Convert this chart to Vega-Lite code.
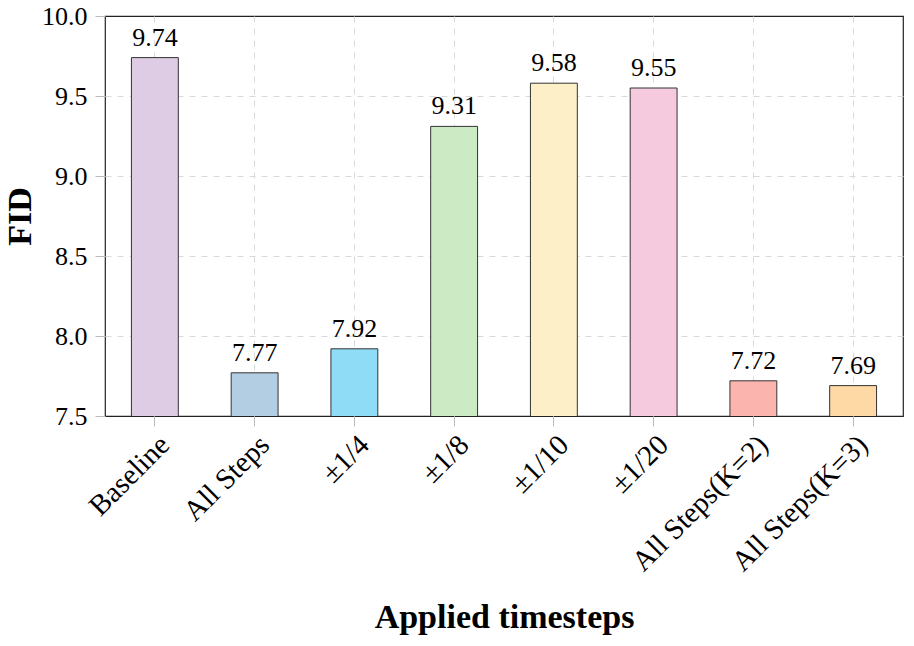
{
  "$schema": "https://vega.github.io/schema/vega-lite/v6.json",
  "autosize": "none",
  "width": 798,
  "height": 400,
  "padding": {"left": 105, "top": 16, "right": 11, "bottom": 230},
  "data": {
    "values": [
      {"step": "Baseline", "fid": 9.74, "color": "#decbe4"},
      {"step": "All Steps", "fid": 7.77, "color": "#b3cde3"},
      {"step": "±1/4", "fid": 7.92, "color": "#8fdcf6"},
      {"step": "±1/8", "fid": 9.31, "color": "#ccebc5"},
      {"step": "±1/10", "fid": 9.58, "color": "#fdefc7"},
      {"step": "±1/20", "fid": 9.55, "color": "#f5c9de"},
      {"step": "All Steps(K=2)", "fid": 7.72, "color": "#fbb4ae"},
      {"step": "All Steps(K=3)", "fid": 7.69, "color": "#fed9a6"}
    ]
  },
  "config": {
    "font": "Liberation Serif",
    "view": {"stroke": "#222", "strokeWidth": 1.2},
    "axis": {
      "labelFont": "Liberation Serif",
      "titleFont": "Liberation Serif",
      "labelColor": "#000",
      "titleColor": "#000",
      "gridColor": "#d9d9d9",
      "gridDash": [6, 6],
      "gridWidth": 1,
      "tickColor": "#bbbbbb",
      "tickSize": 10,
      "domain": false
    }
  },
  "encoding": {
    "x": {
      "field": "step",
      "type": "nominal",
      "sort": null,
      "scale": {"paddingInner": 0.53, "paddingOuter": 0.265},
      "axis": {
        "title": "Applied timesteps",
        "titleFontSize": 34,
        "titleFontWeight": "bold",
        "titlePadding": 24,
        "labelAngle": -45,
        "labelFontSize": 29,
        "labelPadding": 4,
        "bandPosition": 0.5,
        "grid": true
      }
    },
    "y": {
      "field": "fid",
      "type": "quantitative",
      "scale": {"domain": [7.5, 10.0], "zero": false, "nice": false},
      "axis": {
        "title": "FID",
        "titleFontSize": 34,
        "titleFontWeight": "bold",
        "titlePadding": 4,
        "values": [7.5, 8.0, 8.5, 9.0, 9.5, 10.0],
        "format": ".1f",
        "labelFontSize": 26,
        "labelPadding": 8,
        "grid": true,
        "gridOpacity": {"condition": {"test": "datum.value <= 7.5 || datum.value >= 10", "value": 0}, "value": 1}
      }
    }
  },
  "layer": [
    {
      "mark": {"type": "bar", "stroke": "#333", "strokeWidth": 1, "clip": true},
      "encoding": {
        "color": {"field": "color", "type": "nominal", "scale": null, "legend": null}
      }
    },
    {
      "mark": {"type": "text", "fontSize": 26, "baseline": "alphabetic", "dy": -12, "color": "#000"},
      "encoding": {
        "text": {"field": "fid", "type": "quantitative", "format": ".2f"}
      }
    }
  ]
}
